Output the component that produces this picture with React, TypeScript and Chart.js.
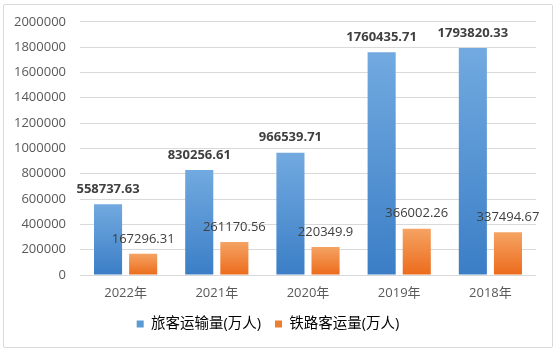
import React, { useEffect, useRef } from "react";
import { Chart, registerables } from "chart.js";

Chart.register(...registerables);

const categories = ["2022年", "2021年", "2020年", "2019年", "2018年"];
const passengerTotal = [558737.63, 830256.61, 966539.71, 1760435.71, 1793820.33];
const railPassenger = [167296.31, 261170.56, 220349.9, 366002.26, 337494.67];
const passengerLabels = ["558737.63", "830256.61", "966539.71", "1760435.71", "1793820.33"];
const railLabels = ["167296.31", "261170.56", "220349.9", "366002.26", "337494.67"];
const seriesNames = ["旅客运输量(万人)", "铁路客运量(万人)"];

const FONT = '"Open Sans", "Noto Sans CJK SC", sans-serif';

function gradientFill(top: string, bottom: string, solid: string) {
  return (ctx: any) => {
    const chart = ctx.chart;
    const y = chart.scales && chart.scales.y;
    if (!y || !chart.chartArea || ctx.type !== "data") return solid;
    const v = ctx.raw as number;
    const yTop = y.getPixelForValue(v);
    const yBase = y.getPixelForValue(0);
    if (!isFinite(yTop) || !isFinite(yBase) || yTop === yBase) return solid;
    const g = chart.ctx.createLinearGradient(0, yTop, 0, yBase);
    g.addColorStop(0, top);
    g.addColorStop(1, bottom);
    return g;
  };
}

const dataLabelPlugin = {
  id: "dataLabels",
  afterDatasetsDraw(chart: any) {
    const ctx = chart.ctx;
    const labelSets = [passengerLabels, railLabels];
    chart.data.datasets.forEach((ds: any, di: number) => {
      const meta = chart.getDatasetMeta(di);
      ctx.save();
      ctx.font = (di === 0 ? "bold " : "") + "13px " + FONT;
      ctx.fillStyle = "#404040";
      ctx.textAlign = "center";
      ctx.textBaseline = "middle";
      meta.data.forEach((el: any, i: number) => {
        ctx.fillText(labelSets[di][i], el.x, el.y - 15);
      });
      ctx.restore();
    });
  },
};

export default function App() {
  const ref = useRef<HTMLCanvasElement | null>(null);

  useEffect(() => {
    if (!ref.current) return;
    const chart = new Chart(ref.current, {
      type: "bar",
      data: {
        labels: categories,
        datasets: [
          {
            label: seriesNames[0],
            data: passengerTotal,
            backgroundColor: gradientFill("#72aae0", "#3b7ec6", "#5b9bd5"),
            categoryPercentage: 0.77,
            barPercentage: 0.8,
          },
          {
            label: seriesNames[1],
            data: railPassenger,
            backgroundColor: gradientFill("#f5a363", "#ec6b1c", "#ed7d31"),
            categoryPercentage: 0.77,
            barPercentage: 0.8,
          },
        ],
      },
      options: {
        responsive: false,
        animation: false,
        layout: { padding: { left: 0, right: 22, top: 21, bottom: 12.75 } },
        scales: {
          x: {
            grid: { display: false, drawTicks: false },
            border: { display: false },
            ticks: { color: "#595959", font: { size: 13, family: FONT }, padding: 10 },
            afterFit: (s: any) => {
              s.height = 27.75;
            },
          },
          y: {
            min: 0,
            max: 2000000,
            grid: { color: "#d9d9d9", drawTicks: false, lineWidth: 1 },
            border: { display: false },
            ticks: {
              stepSize: 200000,
              color: "#595959",
              font: { size: 13, family: FONT },
              padding: 14,
              callback: (v: any) => String(v),
            },
            afterFit: (s: any) => {
              s.width = 80;
            },
          },
        },
        plugins: {
          tooltip: { enabled: false },
          legend: {
            position: "bottom",
            labels: {
              boxWidth: 7,
              boxHeight: 7,
              padding: 14,
              color: "#595959",
              font: { size: 14.5, family: FONT },
              generateLabels: () => [
                { text: seriesNames[0], fillStyle: "#5b9bd5", strokeStyle: "#5b9bd5", lineWidth: 0, datasetIndex: 0, hidden: false },
                { text: seriesNames[1], fillStyle: "#ed7d31", strokeStyle: "#ed7d31", lineWidth: 0, datasetIndex: 1, hidden: false },
              ],
            },
          },
        },
      },
      plugins: [dataLabelPlugin],
    } as any);
    return () => chart.destroy();
  }, []);

  return (
    <div style={{ position: "fixed", left: 0, top: 0, width: 558, height: 354, background: "#fff" }}>
      <div
        style={{
          position: "absolute",
          left: 3,
          top: 4,
          width: 548,
          height: 342,
          border: "1px solid #d9d9d9",
          borderRadius: 2,
        }}
      />
      <canvas ref={ref} width={558} height={354} style={{ position: "absolute", left: 0, top: 0 }} />
    </div>
  );
}
